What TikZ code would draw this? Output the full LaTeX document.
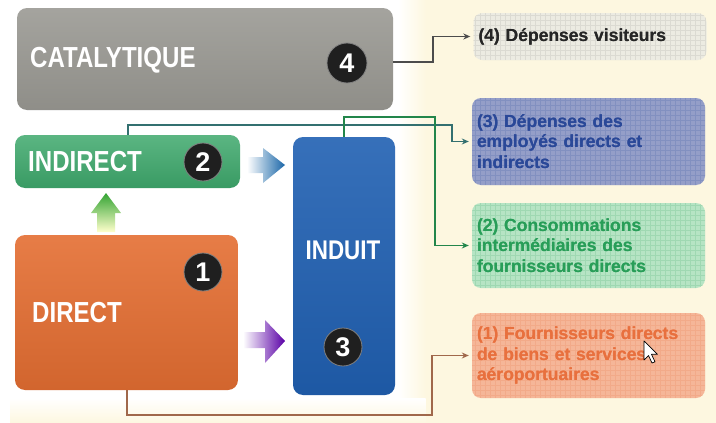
\documentclass[tikz,border=0pt]{standalone}
\usepackage{fontspec}
\setmainfont{Liberation Sans}
\newfontfamily\bigf[FakeStretch=0.83]{Liberation Sans}
\usetikzlibrary{arrows.meta}
\definecolor{cream}{RGB}{253,247,224}
\definecolor{catgray}{RGB}{152,151,145}
\definecolor{indgreen}{RGB}{62,168,108}
\definecolor{dirorange}{RGB}{228,110,50}
\definecolor{indblue}{RGB}{32,96,178}
\definecolor{boxfour}{RGB}{236,235,226}
\definecolor{boxthree}{RGB}{148,158,200}
\definecolor{boxtwo}{RGB}{182,228,196}
\definecolor{boxone}{RGB}{245,182,152}
\definecolor{txtthree}{RGB}{42,72,152}
\definecolor{txttwo}{RGB}{40,158,88}
\definecolor{txtone}{RGB}{232,112,62}
\tikzset{
  bigbox/.style={rounded corners=10pt, inner sep=0pt, draw=none},
  bigtxt/.style={text=white, font=\bigf\bfseries\fontsize{29}{30}\selectfont, inner sep=0pt, anchor=west},
  num/.style={circle, fill=black!88, draw=black!50, line width=0.8pt, text=white, inner sep=0pt,
    minimum size=38pt, font=\bfseries\fontsize{27}{27}\selectfont},
  rbox/.style={rounded corners=9pt, inner sep=5pt, align=left, text width=223pt,
    minimum width=233pt, font=\bfseries\fontsize{17.5}{20.5}\selectfont},
  conn/.style={line width=1.2pt, -{Stealth[length=7pt,width=6pt]}, shorten >=3pt},
}
\begin{document}
\begin{tikzpicture}[x=1pt,y=-1pt]
\useasboundingbox (0,0) rectangle (716,423);
% background
\fill[white] (0,0) rectangle (716,423);
\fill[cream] (425,0) rectangle (716,423);
\shade[left color=white, right color=cream] (398,0) rectangle (425.5,423);
\shade[top color=white, bottom color=cream] (10,398) rectangle (425.5,423);

% left boxes
\node[bigbox, minimum width=376pt, minimum height=102pt, top color=catgray!88!white, bottom color=catgray!94!black] (cat) at (205,59) {};
\node[bigbox, minimum width=225pt, minimum height=53pt, top color=indgreen!85!white, bottom color=indgreen!92!black] (ind) at (127.5,161.5) {};
\node[bigbox, minimum width=223pt, minimum height=155pt, top color=dirorange!90!white, bottom color=dirorange!92!black] (dir) at (126.5,312.5) {};
\node[bigbox, minimum width=102pt, minimum height=258pt, top color=indblue!90!white, bottom color=indblue!92!black] (ndt) at (344,266) {};

\node[bigtxt] (catT) at (30,60) {CATALYTIQUE};
\node[bigtxt] (indT) at (28,162) {INDIRECT};
\node[bigtxt] (dirT) at (32,313) {DIRECT};
\node[bigtxt, anchor=center, font=\bigf\bfseries\fontsize{27}{28}\selectfont] (ndtT) at (343,250) {INDUIT};

\node[num, minimum size=40pt] (n4) at (347,63) {4};
\node[num] (n2) at (203,162) {2};
\node[num] (n1) at (203,272) {1};
\node[num] (n3) at (343,347) {3};

% block arrows
\shade[left color=white, middle color=teal!70!white, right color=indblue!80!teal]
  (247,157)--(263,157)--(263,148)--(285,165)--(263,183)--(263,173)--(247,173)--cycle;
\shade[left color=white, middle color=dirorange!45!white, right color=violet!70!blue]
  (243,332)--(265,332)--(265,320)--(285,341)--(265,363)--(265,348)--(243,348)--cycle;
\shade[top color=green!55!black!80!white, bottom color=yellow!20!white]
  (106,193)--(121,213)--(115,213)--(115,232)--(97,232)--(97,213)--(91,213)--cycle;

% right boxes
\node[rbox, fill=boxfour, minimum height=47pt, text=black!85] (r4) at (590,36.5) {(4) Dépenses visiteurs};
\node[rbox, fill=boxthree, minimum height=87pt, text=txtthree] (r3) at (588.5,141.5) {(3) Dépenses des\\employés directs et\\indirects};
\node[rbox, fill=boxtwo, minimum height=85pt, text=txttwo] (r2) at (588.5,245.5) {(2) Consommations\\intermédiaires des\\fournisseurs directs};
\node[rbox, fill=boxone, minimum height=85pt, text=txtone] (r1) at (588.5,355.5) {(1) Fournisseurs directs\\de biens et services\\aéroportuaires};

% texture grids
\foreach \b/\c/\o in {r4/black/0.07, r3/txtthree/0.16, r2/txttwo/0.16, r1/txtone/0.16}{
  \begin{scope}
    \clip[rounded corners=9pt] (\b.south west) rectangle (\b.north east);
    \draw[\c, opacity=\o, line width=0.4pt, step=5pt] (\b.south west) grid (\b.north east);
  \end{scope}
}
% redraw texts above grid
\node[rbox, minimum height=47pt, text=black!85] at (r4) {(4) Dépenses visiteurs};
\node[rbox, minimum height=87pt, text=txtthree] at (r3) {(3) Dépenses des\\employés directs et\\indirects};
\node[rbox, minimum height=85pt, text=txttwo] at (r2) {(2) Consommations\\intermédiaires des\\fournisseurs directs};
\node[rbox, minimum height=85pt, text=txtone] at (r1) {(1) Fournisseurs directs\\de biens et services\\aéroportuaires};

% connectors
\coordinate (k4) at (433,62);
\draw[conn, draw=black!70] (cat.east |- k4) -- (k4) -- (r4.west -| k4) -- (r4.west);

\coordinate (k3a) at (128,125);
\coordinate (k3b) at (452,125);
\draw[conn, draw=teal!60!black!80] (ind.north -| k3a) -- (k3a) -- (k3b) -- (r3.west -| k3b) -- (r3.west);

\coordinate (k2a) at (344,117);
\coordinate (k2b) at (435,117);
\draw[conn, draw=txttwo!85!black] (ndt.north) -- (k2a) -- (k2b) -- (r2.west -| k2b) -- (r2.west);

\coordinate (k1a) at (127,415);
\coordinate (k1b) at (432,415);
\draw[conn, draw=dirorange!60!black!80] (dir.south -| k1a) -- (k1a) -- (k1b) -- (r1.west -| k1b) -- (r1.west);

% mouse cursor
\draw[fill=white, line width=0.7pt, line join=round] (644,341) -- (644,360) -- (648.5,355.5) -- (652,363) -- (655,361.8) -- (651.5,354.3) -- (657.5,354.3) -- cycle;
\end{tikzpicture}
\end{document}
